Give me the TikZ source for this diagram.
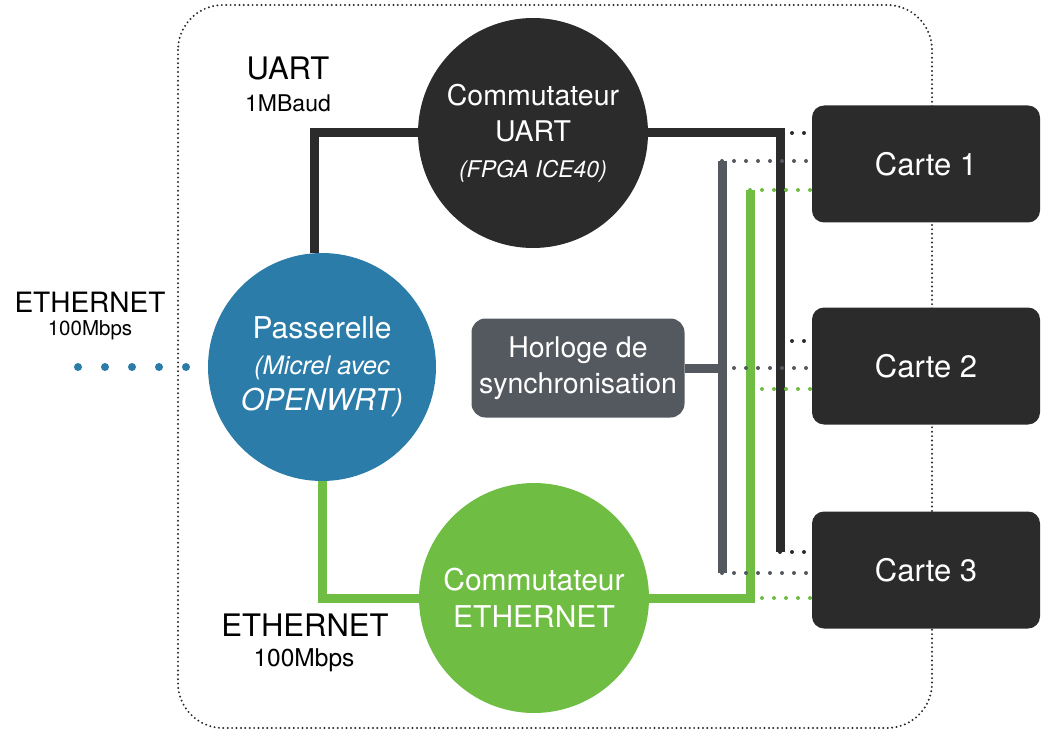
\documentclass[tikz,border=0pt]{standalone}
\usepackage{fontspec}
\setmainfont{TeX Gyre Heros}
\definecolor{nuit}{HTML}{2B2B2B}
\definecolor{bleu}{HTML}{2B7CA8}
\definecolor{vert}{HTML}{70BD43}
\definecolor{ardoise}{HTML}{54585F}
\tikzstyle{commut}=[circle,minimum size=230pt,inner sep=0pt,text=white,align=center]
\tikzstyle{carte}=[rectangle,rounded corners=12pt,fill=nuit,text=white,minimum width=228pt,minimum height=117pt,font=\fontsize{31}{36}\selectfont]
\tikzstyle{horloge}=[rectangle,rounded corners=14pt,fill=ardoise,text=white,minimum width=213pt,minimum height=99pt,align=center,font=\fontsize{28.5}{36}\selectfont]
\tikzstyle{lbl}=[font=\fontsize{31}{36}\selectfont]
\tikzstyle{sublbl}=[font=\fontsize{23}{28}\selectfont]
\tikzstyle{uartbus}=[nuit,line width=9pt]
\tikzstyle{clkbus}=[ardoise,line width=9pt]
\tikzstyle{ethbus}=[vert,line width=9pt]
\tikzstyle{link}=[line width=4pt,line cap=round,dash pattern=on 0pt off 12pt]
\tikzstyle{wandots}=[bleu,line width=8pt,line cap=round,dash pattern=on 0pt off 27pt]
\tikzstyle{cadre}=[nuit,line width=2.2pt,line cap=round,dash pattern=on 0pt off 4.4pt,rounded corners=45pt]

\begin{document}
\begin{tikzpicture}[x=1pt,y=-1pt]
  \useasboundingbox (0,0) rectangle (1044,738);
  \draw[cadre] (178,5) rectangle (932,728);

  \node[commut,fill=nuit,font=\fontsize{28.5}{36}\selectfont] (uart) at (533,133)
    {Commutateur\\UART\\\fontsize{23}{36}\selectfont\itshape (FPGA ICE40)};
  \node[commut,fill=bleu,minimum size=228pt,font=\fontsize{30}{36}\selectfont] (gw) at (322,367)
    {Passerelle\\\fontsize{25.5}{32}\selectfont\itshape (Micrel avec\\\itshape OPENWRT)};
  \node[commut,fill=vert,font=\fontsize{30}{37}\selectfont] (eth) at (534,598)
    {Commutateur\\ETHERNET};
  \node[horloge] (clk) at (578,368) {Horloge de\\synchronisation};

  \node[lbl] (uartlbl) at (288,68) {UART};
  \node[sublbl] (uartdebit) at (288,103) {1MBaud};
  \node[lbl,font=\fontsize{28}{32}\selectfont] (wanlbl) at (90,302) {ETHERNET};
  \node[sublbl,font=\fontsize{20.5}{24}\selectfont] (wandebit) at (90,330) {100Mbps};
  \node[lbl] (ethlbl) at (305,625) {ETHERNET};
  \node[sublbl,font=\fontsize{24.5}{28}\selectfont] (ethdebit) at (304,660) {100Mbps};

  \coordinate (wan) at (78,367);
  \coordinate (ub) at (780,552);
  \coordinate (um) at (780,341);
  \coordinate (kt) at (722,161);
  \coordinate (kb) at (722,573);
  \coordinate (gt) at (750,190);
  \coordinate (gm) at (750,389);

  \draw[wandots] (wan) -- (gw.west);

  % liaisons UART
  \draw[uartbus] ([xshift=-8pt]gw.north) |- (uart.west);
  \draw[uartbus] (uart.east) -| (ub);
  % horloge
  \draw[clkbus] (kt) -- (kb);
  \draw[clkbus] (clk.east) -- (clk.east -| kt);
  % liaisons ETHERNET
  \draw[ethbus] (gw.south) |- (eth.west);
  \draw[ethbus] (eth.east) -| (gt);

  \node[carte] (c1) at (926,164) {Carte 1};
  \node[carte] (c2) at (926,366) {Carte 2};
  \node[carte] (c3) at (926,570) {Carte 3};

  \draw[link,nuit] (uart.east -| ub) -- (uart.east -| c1.west);
  \draw[link,nuit] (um) -- (um -| c2.west);
  \draw[link,nuit] (ub) -- (ub -| c3.west);
  \draw[link,ardoise] (kt) -- (kt -| c1.west);
  \draw[link,ardoise] (clk.east -| kt) -- (clk.east -| c2.west);
  \draw[link,ardoise] (kb) -- (kb -| c3.west);
  \draw[link,vert] (gt) -- (gt -| c1.west);
  \draw[link,vert] (gm) -- (gm -| c2.west);
  \draw[link,vert] (eth.east -| gt) -- (eth.east -| c3.west);
\end{tikzpicture}
\end{document}
